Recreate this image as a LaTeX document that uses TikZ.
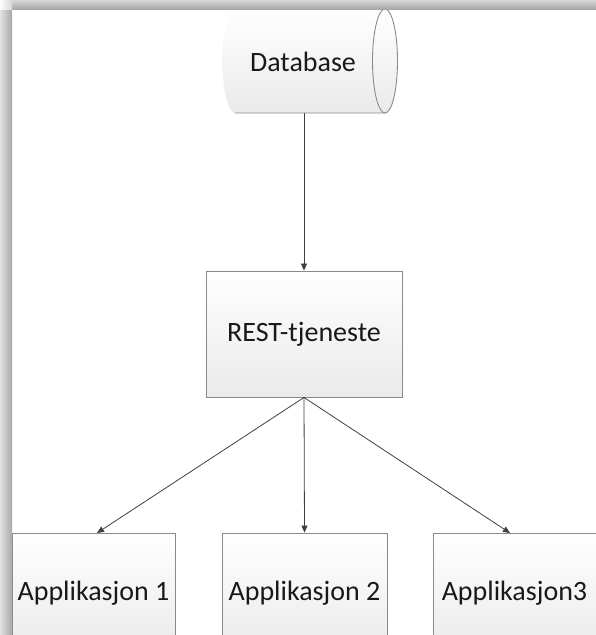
\documentclass[tikz,border=0pt]{standalone}
\usepackage{fontspec}
\setmainfont{Carlito}
\usetikzlibrary{arrows.meta}
\definecolor{edgegray}{HTML}{8A8A8A}
\definecolor{linegray}{HTML}{404040}
\definecolor{fillbot}{HTML}{EAEAEA}
\definecolor{shA}{HTML}{D6D6D6}
\definecolor{shB}{HTML}{A8A8A8}
\definecolor{shC}{HTML}{E2E2E2}
\tikzset{
  lbl/.style={font=\fontsize{28}{32}\selectfont, text=black!90},
  box/.style={draw=edgegray, line width=0.9pt, top color=white, bottom color=fillbot,
    minimum width=#1, inner sep=0pt, lbl},
  conn/.style={draw=linegray, line width=0.8pt, -{Triangle[length=7pt,width=6pt]}},
}
\begin{document}
\begin{tikzpicture}[x=1pt,y=-1pt]
\useasboundingbox (0,0) rectangle (596,635);
\begin{scope}
\clip (0,0) rectangle (596,635);
\fill[white] (0,0) rectangle (596,635);
% cylinder
\node[minimum width=176pt, minimum height=104pt, inner sep=0pt] (db) at (304,61) {};
\begin{scope}
\clip (235,9) -- (385,9) arc[start angle=90, end angle=-90, x radius=12.5, y radius=-52]
  -- (235,113) arc[start angle=-90, end angle=-270, x radius=12.5, y radius=-52] -- cycle;
\shade[top color=white, bottom color=fillbot] (220,9) rectangle (400,113);
\end{scope}
\draw[edgegray, line width=0.9pt]
  (235,9) -- (385,9) (235,113) -- (385,113)
  (235,9) arc[start angle=90, end angle=270, x radius=12.5, y radius=52];
\draw[edgegray, line width=0.9pt] (385,61) ellipse[x radius=12.5, y radius=52];
\node[lbl] (dbtext) at (303,62) {Database};
% boxes
\node[box=196pt, minimum height=126pt] (rest) at (304,334) {REST-tjeneste};
\node[box=163pt, minimum height=120pt] (a1) at (93.5,593) {Applikasjon 1};
\node[box=165pt, minimum height=120pt] (a2) at (304.5,593) {Applikasjon 2};
\node[box=163pt, minimum height=120pt] (a3) at (514.5,593) {Applikasjon3};
\coordinate (t1) at (97,533);
\coordinate (t3) at (510,533);
\draw[conn] (db.south) -- (rest.north);
\draw[conn] (rest.south) -- (t1);
\draw[conn] (rest.south) -- (a2.north);
\draw[conn] (rest.south) -- (t3);
% shadows
\shade[top color=shA, bottom color=shB] (12,0) rectangle (596,9);
\shade[left color=shC, right color=shB] (0,9) rectangle (12,635);
\shade[left color=white!90!shC, right color=shA] (0,0) rectangle (12,9);
\end{scope}
\end{tikzpicture}
\end{document}
